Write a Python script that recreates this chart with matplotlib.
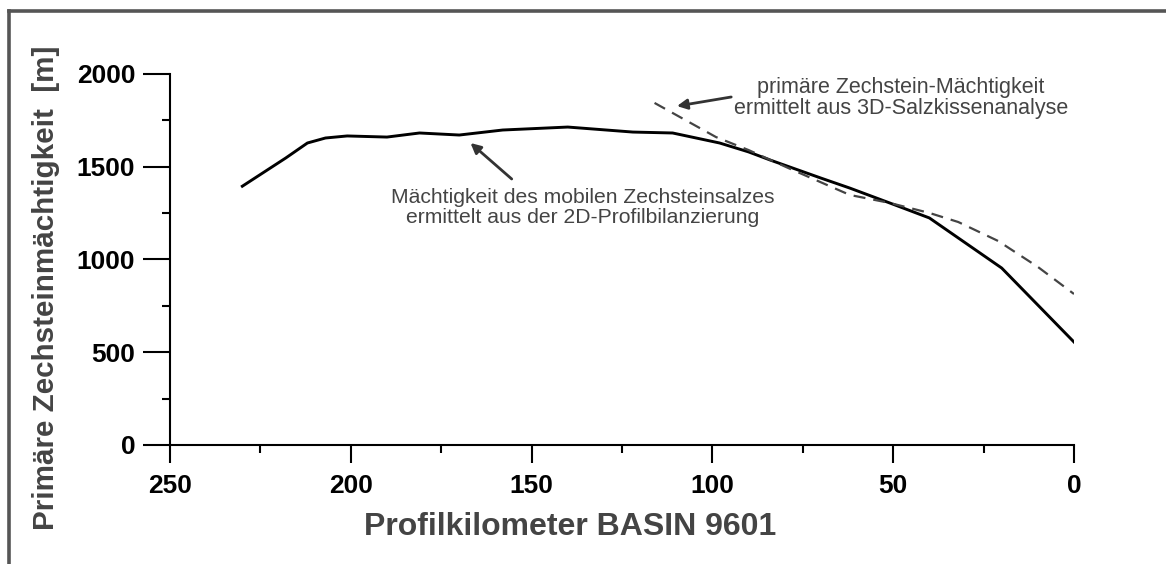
import matplotlib
matplotlib.use("Agg")
import matplotlib.pyplot as plt
from matplotlib.lines import Line2D
from matplotlib.ticker import MultipleLocator

plt.rcParams['font.family'] = ['Liberation Sans', 'DejaVu Sans']

# solid line: thickness of mobile Zechstein salt (2D balancing)
km_2d = [230, 218, 212, 207, 201, 190, 181, 170, 158, 140, 122, 111, 98, 90, 84, 70, 62, 51, 40, 20, 0]
thick_2d = [1395, 1547, 1628, 1655, 1666, 1660, 1682, 1671, 1698, 1714, 1687, 1682, 1628, 1580,
            1536, 1439, 1385, 1305, 1224, 954, 555]

# dashed line: primary Zechstein thickness (3D salt pillow analysis)
km_3d = [116, 110, 99, 90, 79, 62, 51, 40, 32, 21, 10, 0]
thick_3d = [1844, 1779, 1660, 1590, 1493, 1348, 1305, 1251, 1202, 1100, 960, 814]

x_ticks = [250, 200, 150, 100, 50, 0]
y_ticks = [0, 500, 1000, 1500, 2000]

fig = plt.figure(figsize=(11.66, 5.64), dpi=100)
ax = fig.add_axes([0.1458, 0.211, 0.9211 - 0.1458, 0.6578])

ax.plot(km_2d, thick_2d, color='black', lw=2.1, solid_joinstyle='round')
ax.plot(km_3d, thick_3d, color='#444444', lw=1.6, dashes=(5.4, 3.6))

ax.set_xlim(250, 0)
ax.set_ylim(0, 2000)
ax.set_xticks(x_ticks)
ax.set_yticks(y_ticks)
ax.xaxis.set_minor_locator(MultipleLocator(25))
ax.yaxis.set_minor_locator(MultipleLocator(250))

for s in ['top', 'right']:
    ax.spines[s].set_visible(False)
for s in ['left', 'bottom']:
    ax.spines[s].set_linewidth(1.5)

ax.tick_params(axis='y', which='major', direction='out', length=19.5, width=1.5, pad=5.5)
ax.tick_params(axis='y', which='minor', direction='out', length=5.8, width=1.5)
ax.tick_params(axis='x', which='major', direction='out', length=13, width=1.5, pad=8)
ax.tick_params(axis='x', which='minor', direction='out', length=5.8, width=1.5)
for lab in ax.get_xticklabels() + ax.get_yticklabels():
    lab.set_fontsize(19)
    lab.set_fontweight('bold')

fig.text(570 / 1166, 1 - 527 / 564, 'Profilkilometer BASIN 9601', fontsize=23, fontweight='bold',
         color='#444444', ha='center', va='center')
fig.text(46 / 1166, 1 - 288 / 564, 'Primäre Zechsteinmächtigkeit  [m]', fontsize=21.3,
         fontweight='bold', color='#444444', ha='center', va='center', rotation=90)

# annotations
arrow = dict(arrowstyle='-|>', color='#333333', lw=2, mutation_scale=15, shrinkA=0, shrinkB=0)
ax.annotate('', xy=(109.8, 1827), xytext=(94.8, 1876), arrowprops=arrow)
ax.text(47.9, 1871, 'primäre Zechstein-Mächtigkeit\nermittelt aus 3D-Salzkissenanalyse',
        fontsize=15.5, color='#444444', ha='center', va='center', linespacing=1.05)
ax.annotate('', xy=(166.9, 1628), xytext=(155.5, 1434), arrowprops=arrow)
ax.text(135.8, 1280, 'Mächtigkeit des mobilen Zechsteinsalzes\nermittelt aus der 2D-Profilbilanzierung',
        fontsize=15.2, color='#444444', ha='center', va='center', linespacing=1.05)

# outer frame (left and top edges visible)
fig.add_artist(Line2D([9 / 1166, 9 / 1166], [0, 1 - 11 / 564], transform=fig.transFigure,
                      color='#555555', lw=2.6))
fig.add_artist(Line2D([9 / 1166, 1.01], [1 - 11 / 564, 1 - 11 / 564], transform=fig.transFigure,
                      color='#555555', lw=2.6))

fig.savefig('out.png', dpi=100)
